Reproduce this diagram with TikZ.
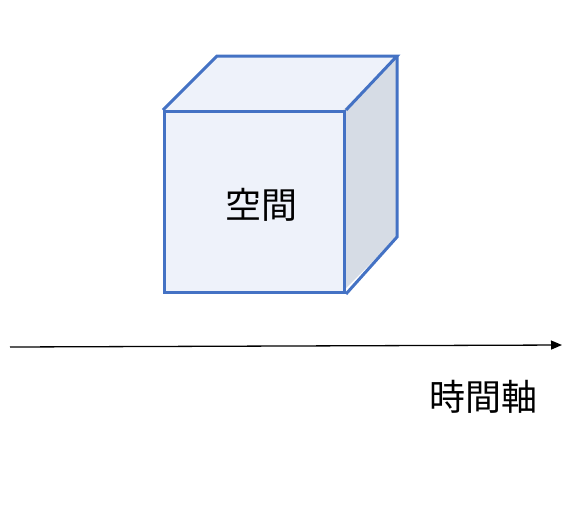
\documentclass[tikz,border=0pt]{standalone}
\usepackage{fontspec}
\usetikzlibrary{arrows.meta}
\newfontfamily\cjk{Noto Sans CJK JP}
\definecolor{cubeblue}{HTML}{4472C4}
\definecolor{frontfill}{HTML}{EEF2FA}
\definecolor{sidefill}{HTML}{D6DCE5}
\begin{document}
\begin{tikzpicture}[x=1pt,y=-1pt,
  face/.style={draw=cubeblue,line width=3pt,line join=miter},
  lbl/.style={font=\cjk\fontsize{36}{42}\selectfont,inner sep=0pt}]
\useasboundingbox (0,0) rectangle (575,507);
% top face
\fill[frontfill] (163,110) -- (217,56) -- (397,56) -- (343,110) -- cycle;
% right face
\fill[sidefill] (343,110) -- (397,56) -- (397,237) -- (343,291) -- cycle;
% front face
\node[face,fill=frontfill,minimum width=180pt,minimum height=181pt,inner sep=0pt,anchor=north west] (front) at (163,110) {};
\draw[face] (front.north west) -- (217,56) -- (397,56) -- (front.north east);
\draw[face] (397,56) -- (397,237) -- (front.south east);
\node[lbl] (space) at (261,205) {空間};
\coordinate (t0) at (10,347);
\coordinate (t1) at (562,345);
\draw[line width=1.3pt,-{Triangle[length=11pt,width=9pt]}] (t0) -- (t1);
\node[lbl] (time) at (483,397) {時間軸};
\end{tikzpicture}
\end{document}
